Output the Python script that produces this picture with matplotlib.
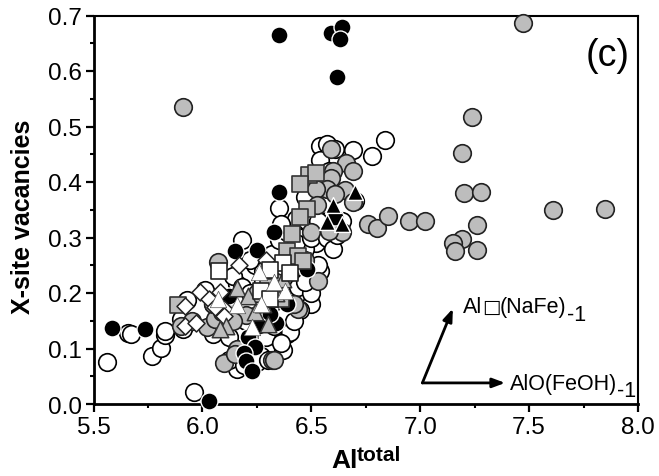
import matplotlib
matplotlib.use("Agg")
import matplotlib.pyplot as plt
from matplotlib.ticker import MultipleLocator

plt.rcParams['font.family'] = ['Liberation Sans', 'DejaVu Sans']

white_circle_x = [5.56,5.66,5.67,5.77,5.81,5.83,5.83,5.96,5.9,5.93,5.91,6.01,6.05,
 6.16,6.16,6.32,6.37,6.39,6.27,6.12,6.19,6.22,6.25,6.29,6.33,6.12,6.08,6.05,6.14,6.2,
 6.25,6.3,6.34,6.38,6.42,6.46,6.5,6.54,6.36,6.4,6.44,6.48,6.52,6.43,6.47,6.51,
 6.24,6.28,6.32,6.35,6.39,6.43,6.47,6.18,6.22,6.14,6.18,6.35,6.43,6.47,6.54,6.57,6.54,
 6.55,6.5,6.48,6.53,6.57,6.6,6.62,6.64,6.56,6.58,6.61,6.69,6.78,6.84,6.7,6.36,6.28,6.22,
 6.5,6.45,6.53,6.4,6.3,6.36,6.47,6.42]
white_circle_y = [.076,.128,.127,.087,.101,.125,.132,.022,.153,.187,.135,.205,.126,
 .216,.063,.105,.097,.126,.087,.08,.07,.09,.075,.12,.14,.12,.15,.18,.17,.15,
 .16,.16,.17,.16,.18,.2,.18,.24,.2,.22,.21,.235,.29,.26,.28,.31,
 .25,.24,.27,.295,.31,.29,.33,.295,.26,.23,.21,.353,.333,.373,.465,.468,.44,
 .345,.3,.33,.33,.3,.28,.305,.33,.36,.42,.46,.458,.447,.475,.365,.324,.22,.2,
 .2,.17,.25,.13,.08,.11,.22,.15]

gray_circle_x = [5.91,7.47,7.24,7.19,7.2,7.28,7.26,7.26,7.19,7.15,7.16,6.76,6.8,6.85,6.95,7.02,7.61,7.85,
 6.59,6.66,6.69,6.6,6.59,6.57,6.52,6.655,6.61,6.69,6.525,6.64,6.58,
 6.07,6.10,6.32,6.33,6.53,6.16,6.02,6.06,6.44,6.15,5.9,5.95,6.12,6.2,6.25,6.36,6.42,6.47,6.5,6.05,6.09,6.14,6.28,6.34]
gray_circle_y = [.536,.686,.517,.453,.38,.382,.322,.277,.297,.29,.275,.325,.318,.338,.33,.33,.35,.351,
 .459,.434,.42,.42,.407,.387,.387,.386,.378,.364,.359,.31,.312,
 .256,.074,.079,.08,.222,.1,.139,.153,.171,.09,.14,.15,.17,.16,.2,.19,.18,.26,.31,.18,.165,.15,.15,.22]

black_circle_x = [5.585,5.737,6.03,6.35,6.59,6.64,6.63,6.62,6.35,6.33,6.15,6.25,6.12,6.48,
 6.39,6.34,6.21,6.24,6.19,6.2,6.23,6.31,6.61,6.26]
black_circle_y = [.137,.135,.006,.664,.668,.68,.657,.59,.382,.31,.276,.277,.195,.243,
 .18,.146,.12,.103,.092,.077,.06,.162,.337,.14]

gray_square_x = [5.89,6.49,6.52,6.45,6.48,6.45,6.41,6.39,6.44,6.46,6.3,6.36]
gray_square_y = [.178,.413,.416,.396,.351,.337,.306,.276,.267,.258,.21,.19]

white_square_x = [6.076,6.37,6.31,6.40,6.27,6.31]
white_square_y = [.24,.254,.241,.236,.204,.189]

white_diamond_x = [5.92,5.92,5.97,5.99,6.03,6.08,6.10,6.10,6.17,6.29,6.06]
white_diamond_y = [.177,.14,.146,.202,.19,.202,.172,.158,.25,.26,.175]

gray_triangle_x = [6.16,6.21,6.24,6.30,6.11,6.08,6.37,6.28,6.34]
gray_triangle_y = [.209,.195,.166,.144,.14,.135,.225,.18,.2]

white_triangle_x = [6.16,6.23,6.38,6.26,6.07,6.33,6.27]
white_triangle_y = [.178,.139,.204,.238,.19,.22,.18]

black_triangle_x = [6.6,6.7,6.57,6.64]
black_triangle_y = [.358,.382,.328,.324]

x_ticks = [5.5,6.0,6.5,7.0,7.5,8.0]
y_ticks = [0.0,0.1,0.2,0.3,0.4,0.5,0.6,0.7]

W, H = 659, 477
fig = plt.figure(figsize=(W/100, H/100), dpi=100)
L, R, T, B = 93.5, 638, 16.5, 405
ax = fig.add_axes([L/W, 1-B/H, (R-L)/W, (B-T)/H])
ax.set_xlim(5.5, 8.0); ax.set_ylim(0, 0.7)

GRAY = '#bdbdbd'
ax.scatter(white_circle_x, white_circle_y, s=160, c='white', edgecolors='black', linewidths=1.2, clip_on=False, zorder=3)
ax.scatter(gray_circle_x, gray_circle_y, s=160, c=GRAY, edgecolors='#222222', linewidths=1.2, clip_on=False, zorder=4)
ax.scatter(black_circle_x, black_circle_y, s=150, c='black', edgecolors='white', linewidths=1.0, clip_on=False, zorder=5)
ax.scatter(gray_square_x, gray_square_y, s=125, marker='s', c=GRAY, edgecolors='#333333', linewidths=1.2, zorder=6)
ax.scatter(white_diamond_x, white_diamond_y, s=75, marker='D', c='white', edgecolors='#222222', linewidths=1.1, zorder=7)
ax.scatter(gray_triangle_x, gray_triangle_y, s=140, marker='^', c=GRAY, edgecolors='#333333', linewidths=1.1, zorder=8)
ax.scatter(white_square_x, white_square_y, s=125, marker='s', c='white', edgecolors='#222222', linewidths=1.2, zorder=9)
ax.scatter(white_triangle_x, white_triangle_y, s=140, marker='^', c='white', edgecolors='#555555', linewidths=0.5, zorder=9)
ax.scatter(black_triangle_x, black_triangle_y, s=130, marker='^', c='black', edgecolors='white', linewidths=1.0, zorder=10)

ax.set_xticks(x_ticks); ax.set_yticks(y_ticks)
ax.set_xticklabels([f'{v:.1f}' for v in x_ticks])
ax.set_yticklabels([f'{v:.1f}' for v in y_ticks])
ax.xaxis.set_minor_locator(MultipleLocator(0.25))
ax.yaxis.set_minor_locator(MultipleLocator(0.05))
ax.tick_params(which='major', direction='out', length=5.5, width=1.6, labelsize=17.5, pad=3)
ax.tick_params(which='minor', direction='out', length=3.2, width=1.5)
ax.spines['left'].set_linewidth(2.0); ax.spines['bottom'].set_linewidth(2.0)
ax.spines['top'].set_linewidth(1.5); ax.spines['right'].set_linewidth(1.5)

fig.text(331/W, 1-468/H, 'Al', fontsize=19, fontweight='bold', va='baseline', ha='left')
fig.text(357/W, 1-461/H, 'total', fontsize=15, fontweight='bold', va='baseline', ha='left')
fig.text(23/W, 1-217/H, 'X-site vacancies', fontsize=18, fontweight='bold', rotation=90, va='center', ha='center')

ax.text(1-8/(R-L), 1-50/(B-T), '(c)', transform=ax.transAxes, fontsize=27, ha='right', va='baseline', zorder=12)

arrow = dict(arrowstyle='-|>,head_length=0.75,head_width=0.28', color='black', lw=2, shrinkA=0, shrinkB=0)
ax.annotate('', xy=(7.15, 0.172), xytext=(7.01, 0.038), arrowprops=arrow, zorder=12)
ax.annotate('', xy=(7.39, 0.038), xytext=(7.01, 0.038), arrowprops=arrow, zorder=12)

fig.text(463/W, 1-313/H, 'Al', fontsize=15.5, va='baseline', ha='left')
fig.text(482/W, 1-313/H, '\u25a1', fontsize=14, family=['DejaVu Sans'], va='baseline', ha='left')
fig.text(500/W, 1-313/H, '(NaFe)', fontsize=15.5, va='baseline', ha='left')
fig.text(567/W, 1-321/H, '-1', fontsize=15.5, va='baseline', ha='left')
fig.text(510/W, 1-390/H, 'AlO(FeOH)', fontsize=15.5, va='baseline', ha='left')
fig.text(617/W, 1-397/H, '-1', fontsize=15.5, va='baseline', ha='left')

fig.savefig('out.png', dpi=100)
